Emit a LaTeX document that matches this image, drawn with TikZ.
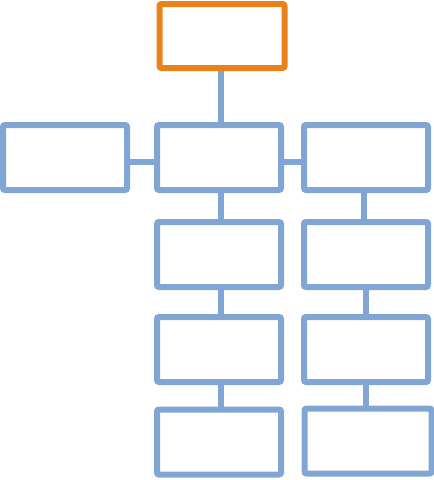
\documentclass[tikz,border=0pt]{standalone}
\usetikzlibrary{positioning}
\definecolor{boxblue}{HTML}{82A6D3}
\definecolor{headorange}{HTML}{E8821A}
\tikzset{orgbox/.style={rectangle,draw=boxblue,line width=6pt,rounded corners=2pt,
minimum width=124pt,minimum height=65pt,inner sep=0pt},
headbox/.style={orgbox,draw=headorange,minimum width=125pt,minimum height=64pt},
link/.style={draw=boxblue,line width=6pt}}
\begin{document}
\begin{tikzpicture}[x=1pt,y=-1pt]
    \useasboundingbox (0,0) rectangle (434,480);
    % head
    \node[headbox] (head) at (222,36) {};
    % second row
    \node[orgbox] (left) at (65,157.5) {};
    \node[orgbox] (mid) at (219,157.5) {};
    \node[orgbox] (right) at (366,157.5) {};
    % middle column
    \node[orgbox] (mid-a) at (219,254.5) {};
    \node[orgbox] (mid-b) at (219,349.5) {};
    \node[orgbox] (mid-c) at (219,442) {};
    % right column
    \node[orgbox] (right-a) at (366,254.5) {};
    \node[orgbox] (right-b) at (366,349.5) {};
    \node[orgbox,minimum width=127pt] (right-c) at (368,441) {};
    % links
    \draw[link] ([xshift=-1pt]head.south) -- ([xshift=-1pt]head.south |- mid.north);
    \draw[link] ([yshift=-4pt]left.east) -- ([yshift=-4pt]mid.west);
    \draw[link] ([yshift=-4pt]mid.east) -- ([yshift=-4pt]right.west);
    \draw[link] ([xshift=2pt]mid.south) -- ([xshift=2pt]mid-a.north);
    \draw[link] ([xshift=2pt]mid-a.south) -- ([xshift=2pt]mid-b.north);
    \draw[link] ([xshift=2pt]mid-b.south) -- ([xshift=2pt]mid-c.north);
    \draw[link] ([xshift=-2pt]right.south) -- ([xshift=-2pt]right-a.north);
    \draw[link] (right-a.south) -- (right-b.north);
    \draw[link] (right-b.south) -- (right-b.south |- right-c.north);
\end{tikzpicture}
\end{document}
